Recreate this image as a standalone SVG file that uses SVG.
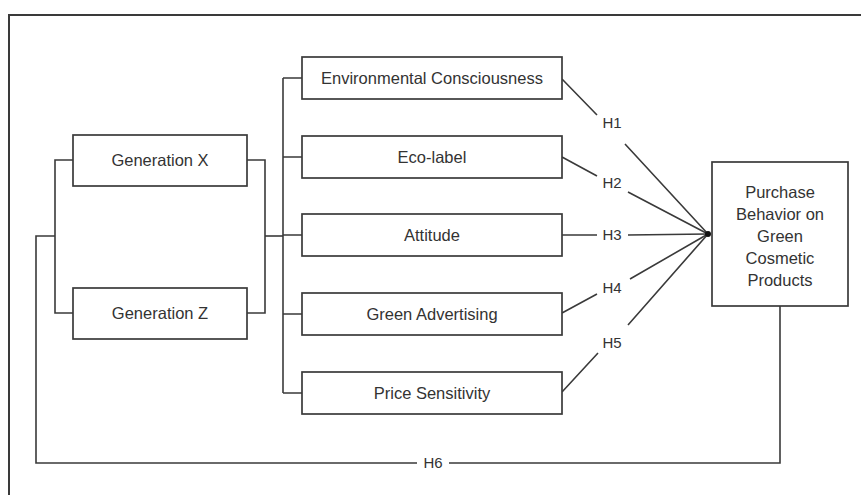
<svg xmlns="http://www.w3.org/2000/svg" width="861" height="495" viewBox="0 0 861 495">
<style>
.box{fill:#fff;stroke:#3a3a3a;stroke-width:1.7}
.ln{fill:none;stroke:#3a3a3a;stroke-width:1.6}
.t{font-family:"Liberation Sans",Arial,sans-serif;font-size:16.5px;fill:#333;text-anchor:middle}
.h{font-family:"Liberation Sans",Arial,sans-serif;font-size:15px;fill:#333;text-anchor:middle}
</style>
<rect width="861" height="495" fill="#fff"/>
<path d="M9,495 V15 H861" fill="none" stroke="#3a3a3a" stroke-width="2"/>
<g id="connectors">
<path class="ln" d="M73,160 H55 V313 H73"/>
<path class="ln" d="M55,236 H36 V463 H417"/>
<path class="ln" d="M449,463 H780 V306"/>
<path class="ln" d="M247,160 H265 V313 H247"/>
<path class="ln" d="M265,236 H283"/>
<path class="ln" d="M283,78 V393"/>
<path class="ln" d="M283,78 H302 M283,157 H302 M283,235 H302 M283,314 H302 M283,393 H302"/>
<path class="ln" d="M562,79 L597,115 M625,144 L708,234"/>
<path class="ln" d="M562,157 L597,176 M628,192 L708,234"/>
<path class="ln" d="M562,235 L597,235 M628,235 L708,234"/>
<path class="ln" d="M562,313 L597,294 M630,279 L708,234"/>
<path class="ln" d="M562,392 L598,353 M628,325 L708,234"/>
<circle cx="708" cy="234" r="3" fill="#111"/>
<text class="h" x="612" y="128">H1</text>
<text class="h" x="612" y="188">H2</text>
<text class="h" x="612" y="240">H3</text>
<text class="h" x="612" y="293">H4</text>
<text class="h" x="612" y="348">H5</text>
<text class="h" x="433" y="468">H6</text>
</g>
<g id="genx"><rect class="box" x="73" y="135" width="174" height="51"/><text class="t" x="160" y="166">Generation X</text></g>
<g id="genz"><rect class="box" x="73" y="288" width="174" height="51"/><text class="t" x="160" y="319">Generation Z</text></g>
<g id="env"><rect class="box" x="302" y="57" width="260" height="42"/><text class="t" x="432" y="84">Environmental Consciousness</text></g>
<g id="eco"><rect class="box" x="302" y="136" width="260" height="42"/><text class="t" x="432" y="163">Eco-label</text></g>
<g id="att"><rect class="box" x="302" y="214" width="260" height="42"/><text class="t" x="432" y="241">Attitude</text></g>
<g id="adv"><rect class="box" x="302" y="293" width="260" height="42"/><text class="t" x="432" y="320">Green Advertising</text></g>
<g id="price"><rect class="box" x="302" y="372" width="260" height="42"/><text class="t" x="432" y="399">Price Sensitivity</text></g>
<g id="purchase"><rect class="box" x="712" y="162" width="136" height="144"/>
<text class="t" x="780" y="198">Purchase</text>
<text class="t" x="780" y="220">Behavior on</text>
<text class="t" x="780" y="242">Green</text>
<text class="t" x="780" y="264">Cosmetic</text>
<text class="t" x="780" y="286">Products</text>
</g>
</svg>
